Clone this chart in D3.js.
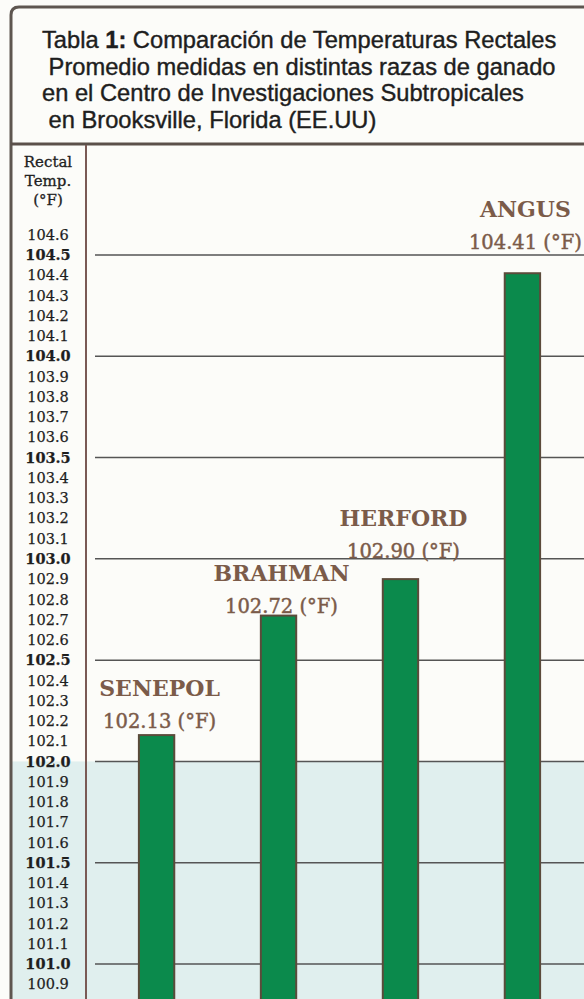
<!DOCTYPE html>
<html>
<head>
<meta charset="utf-8">
<script src="https://cdn.jsdelivr.net/npm/d3@7"></script>
<style>
  body { margin: 0; background: #fcfcf9; }
  svg { display: block; }
</style>
</head>
<body>
<script>
// Data
const breeds = ["SENEPOL", "BRAHMAN", "HERFORD", "ANGUS"];
const temps = [102.13, 102.72, 102.90, 104.41];
const tempLabels = ["102.13 (°F)", "102.72 (°F)", "102.90 (°F)", "104.41 (°F)"];
const tickValues = [100.9, 101.0, 101.1, 101.2, 101.3, 101.4, 101.5, 101.6, 101.7, 101.8, 101.9,
  102.0, 102.1, 102.2, 102.3, 102.4, 102.5, 102.6, 102.7, 102.8, 102.9,
  103.0, 103.1, 103.2, 103.3, 103.4, 103.5, 103.6, 103.7, 103.8, 103.9,
  104.0, 104.1, 104.2, 104.3, 104.4, 104.5, 104.6];
const gridValues = [101.0, 101.5, 102.0, 102.5, 103.0, 103.5, 104.0, 104.5];
const shadeTop = 102.0;
const titleLines = [
  "Comparación de Temperaturas Rectales",
  " Promedio medidas en distintas razas de ganado",
  "en el Centro de Investigaciones Subtropicales",
  " en Brooksville, Florida (EE.UU)"
];
const axisTitle = ["Rectal", "Temp.", "(°F)"];

const width = 584;
const height = 999;

// label lift above each bar top (px), labels were hand placed in the original
const labelLift = [7, 3, 21, 24];

const svg = d3.select("body")
    .append("svg")
    .attr("width", width)
    .attr("height", height);

// scales
const y = d3.scaleLinear()
    .domain([101.0, 104.5])
    .range([964, 255]);

const x = d3.scaleBand()
    .domain(breeds)
    .range([95, 584])
    .paddingInner(0.71)
    .paddingOuter(0.36);

// shaded band below 102.0
svg.append("rect")
    .attr("x", 12)
    .attr("y", y(shadeTop))
    .attr("width", width - 12)
    .attr("height", height - y(shadeTop))
    .attr("fill", "#e0efee");

// grid lines
svg.append("g")
    .selectAll("line")
    .data(gridValues)
    .join("line")
    .attr("x1", 95)
    .attr("x2", width)
    .attr("y1", d => y(d))
    .attr("y2", d => y(d))
    .attr("stroke", "#555")
    .attr("stroke-width", 1.5);

// bars
svg.append("g")
    .selectAll("rect")
    .data(breeds)
    .join("rect")
    .attr("x", d => x(d))
    .attr("y", (d, i) => y(temps[i]))
    .attr("width", x.bandwidth())
    .attr("height", (d, i) => height + 5 - y(temps[i]))
    .attr("fill", "#0b8a4c")
    .attr("stroke", "#5b4b3b")
    .attr("stroke-width", 2);

// bar labels
const labels = svg.append("g")
    .attr("font-family", "'DejaVu Serif', serif")
    .attr("fill", "#7b5b49")
    .attr("text-anchor", "middle");

labels.selectAll(".name")
    .data(breeds)
    .join("text")
    .attr("class", "name")
    .attr("x", d => x(d) + x.bandwidth() / 2 + 3)
    .attr("y", (d, i) => y(temps[i]) - labelLift[i] - 32)
    .attr("font-size", 22)
    .attr("font-weight", "bold")
    .text(d => d);

labels.selectAll(".val")
    .data(breeds)
    .join("text")
    .attr("class", "val")
    .attr("x", d => x(d) + x.bandwidth() / 2 + 3)
    .attr("y", (d, i) => y(temps[i]) - labelLift[i])
    .attr("font-size", 19.5)
    .attr("stroke", "#7b5b49")
    .attr("stroke-width", 0.45)
    .text((d, i) => tempLabels[i]);

// axis column
const axis = d3.axisLeft(y)
    .tickValues(tickValues)
    .tickSize(0)
    .tickFormat(d3.format(".1f"));

const ax = svg.append("g")
    .attr("transform", "translate(48,0)")
    .call(axis);
ax.select(".domain").remove();
ax.selectAll("text")
    .attr("x", 0)
    .attr("text-anchor", "middle")
    .attr("font-family", "'DejaVu Serif', serif")
    .attr("font-size", 14.5)
    .attr("fill", "#1e1e1e")
    .attr("stroke", "#1e1e1e")
    .attr("stroke-width", 0.25)
    .attr("font-weight", d => (Math.round(d * 10) % 5 === 0) ? "bold" : "normal");

svg.append("g")
    .attr("font-family", "'DejaVu Serif', serif")
    .attr("font-size", 15)
    .attr("fill", "#222")
    .attr("stroke", "#222")
    .attr("stroke-width", 0.3)
    .attr("text-anchor", "middle")
    .selectAll("text")
    .data(axisTitle)
    .join("text")
    .attr("x", 48)
    .attr("y", (d, i) => 167 + i * 19)
    .text(d => d);

// title
const title = svg.append("g")
    .attr("font-family", "'Liberation Sans', Arial, sans-serif")
    .attr("font-size", 23.7)
    .attr("fill", "#1e1e1e")
    .attr("stroke", "#1e1e1e")
    .attr("stroke-width", 0.4);

title.selectAll("text")
    .data(titleLines)
    .join("text")
    .attr("x", 42)
    .attr("y", (d, i) => 48 + i * 26.7)
    .attr("xml:space", "preserve")
    .each(function (d, i) {
        const t = d3.select(this);
        if (i === 0) {
            t.append("tspan").text("Tabla ");
            t.append("tspan").attr("font-weight", "bold").text("1:");
            t.append("tspan").text(" " + d);
        } else {
            t.text(d);
        }
    });

// frame lines
svg.append("path")
    .attr("d", "M11,999 L11,15 Q11,7 19,7 L584,7")
    .attr("fill", "none")
    .attr("stroke", "#5e5650")
    .attr("stroke-width", 3);

svg.append("line")
    .attr("x1", 11).attr("x2", width)
    .attr("y1", 144).attr("y2", 144)
    .attr("stroke", "#5b504a")
    .attr("stroke-width", 3);

svg.append("line")
    .attr("x1", 86).attr("x2", 86)
    .attr("y1", 145).attr("y2", height)
    .attr("stroke", "#7a5a55")
    .attr("stroke-width", 2);
</script>
</body>
</html>
